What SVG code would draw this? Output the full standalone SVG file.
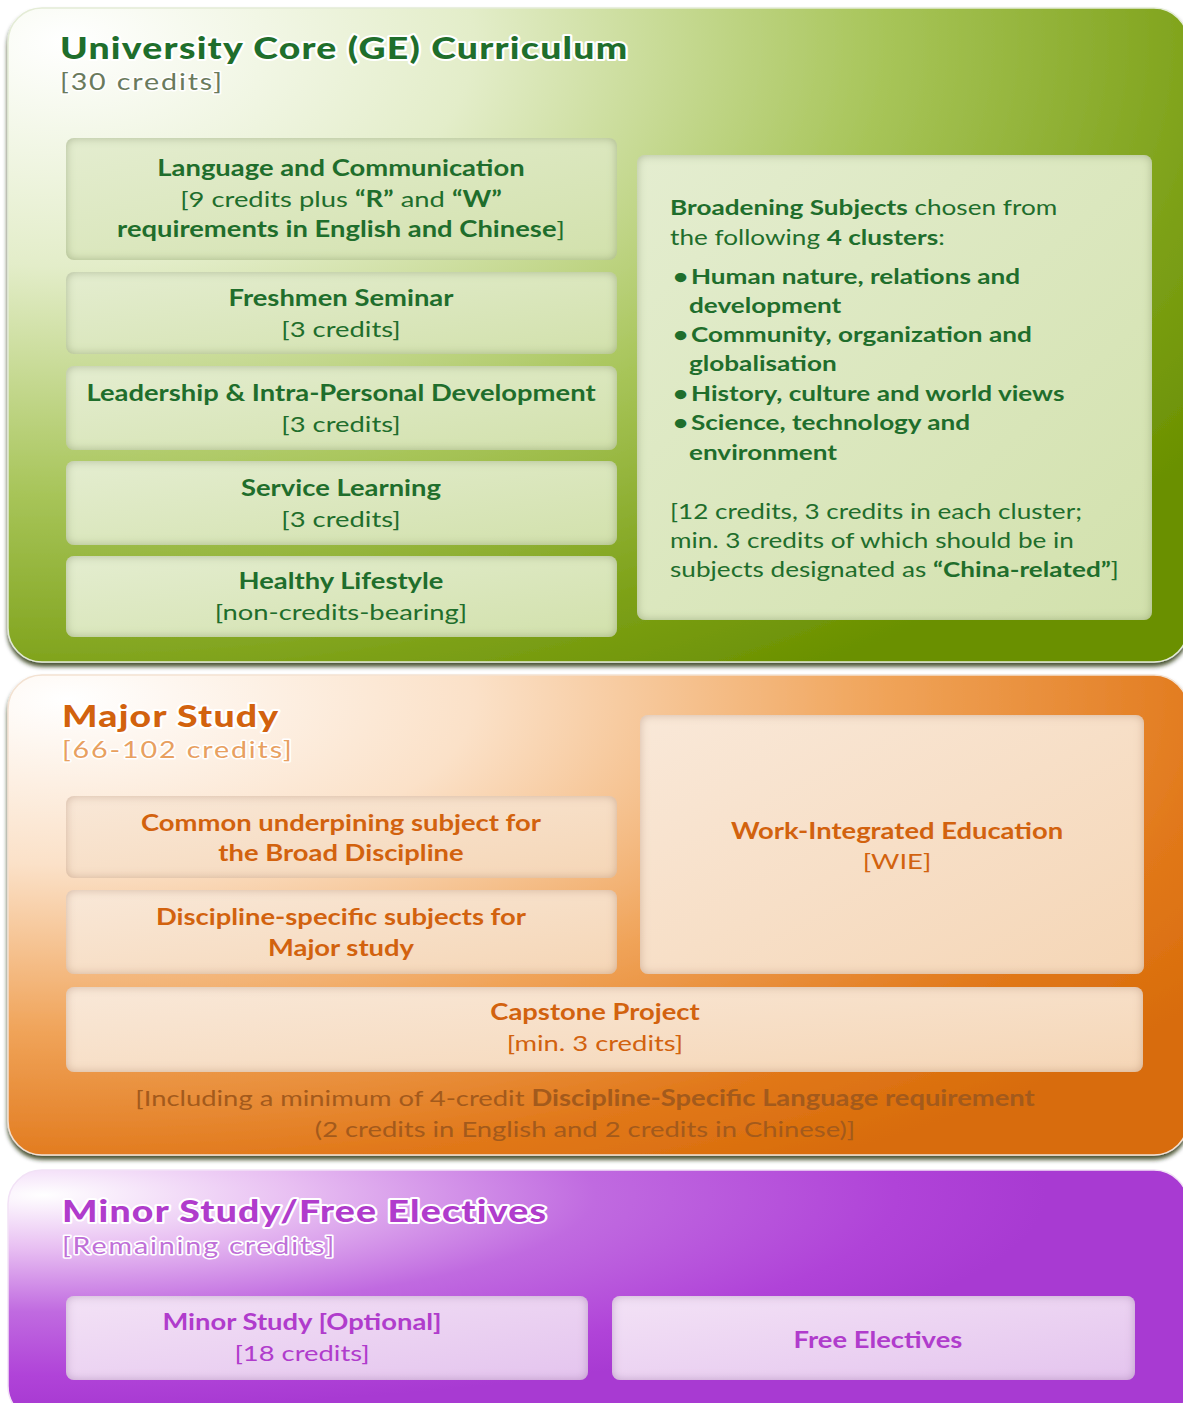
<svg xmlns="http://www.w3.org/2000/svg" width="1183" height="1403" viewBox="0 0 1183 1403">
<defs>
<radialGradient id="gGreen" cx="0.05" cy="0.05" r="1.15" fx="0.05" fy="0.05">
<stop offset="0" stop-color="#ffffff"/>
<stop offset="0.3" stop-color="#e3edc9"/>
<stop offset="0.6" stop-color="#a8c55a"/>
<stop offset="0.85" stop-color="#7ca016"/>
<stop offset="1" stop-color="#6a9000"/>
</radialGradient>
<radialGradient id="gOrange" cx="0.05" cy="0.05" r="1.15" fx="0.05" fy="0.05">
<stop offset="0" stop-color="#ffffff"/>
<stop offset="0.3" stop-color="#fbe1c8"/>
<stop offset="0.6" stop-color="#f0a45a"/>
<stop offset="0.85" stop-color="#e1781a"/>
<stop offset="1" stop-color="#d86c0a"/>
</radialGradient>
<radialGradient id="gPurple" cx="0.03" cy="0.1" r="0.85" fx="0.03" fy="0.1">
<stop offset="0" stop-color="#ffffff"/>
<stop offset="0.25" stop-color="#e8bff2"/>
<stop offset="0.55" stop-color="#c06ae0"/>
<stop offset="0.85" stop-color="#b043d8"/>
<stop offset="1" stop-color="#a83ad2"/>
</radialGradient>
<linearGradient id="bGreen" x1="0" y1="0" x2="1" y2="1">
<stop offset="0" stop-color="#e4edd0"/>
<stop offset="1" stop-color="#d2e1ac"/>
</linearGradient>
<linearGradient id="bOrange" x1="0" y1="0" x2="1" y2="1">
<stop offset="0" stop-color="#f9e8d8"/>
<stop offset="1" stop-color="#f5d6b6"/>
</linearGradient>
<linearGradient id="bPurple" x1="0" y1="0" x2="1" y2="1">
<stop offset="0" stop-color="#f3e2f6"/>
<stop offset="1" stop-color="#e4c4ee"/>
</linearGradient>
<filter id="panelShadow" x="-5%" y="-5%" width="110%" height="115%">
<feGaussianBlur in="SourceAlpha" stdDeviation="2"/>
<feOffset dx="0" dy="4" result="o"/>
<feFlood flood-color="#1e2a00" flood-opacity="0.8"/>
<feComposite in2="o" operator="in"/>
<feMerge><feMergeNode/><feMergeNode in="SourceGraphic"/></feMerge>
</filter>
<filter id="innerG" x="-5%" y="-10%" width="110%" height="120%">
<feFlood flood-color="#5a7020" flood-opacity="0.55"/>
<feComposite in2="SourceAlpha" operator="out"/>
<feGaussianBlur stdDeviation="5"/>
<feComposite in2="SourceAlpha" operator="in" result="in"/>
<feMerge><feMergeNode in="SourceGraphic"/><feMergeNode in="in"/></feMerge>
</filter>
<filter id="innerO" x="-5%" y="-10%" width="110%" height="120%">
<feFlood flood-color="#9a5a20" flood-opacity="0.5"/>
<feComposite in2="SourceAlpha" operator="out"/>
<feGaussianBlur stdDeviation="5"/>
<feComposite in2="SourceAlpha" operator="in" result="in"/>
<feMerge><feMergeNode in="SourceGraphic"/><feMergeNode in="in"/></feMerge>
</filter>
<filter id="innerP" x="-5%" y="-10%" width="110%" height="120%">
<feFlood flood-color="#7a3a8a" flood-opacity="0.5"/>
<feComposite in2="SourceAlpha" operator="out"/>
<feGaussianBlur stdDeviation="5"/>
<feComposite in2="SourceAlpha" operator="in" result="in"/>
<feMerge><feMergeNode in="SourceGraphic"/><feMergeNode in="in"/></feMerge>
</filter>
</defs>
<style>
text { font-family: Lato, "Open Sans", "Liberation Sans", sans-serif; }
.title { font-size: 30px; font-weight: 900; letter-spacing: 1px; stroke: #ffffff; stroke-width: 4px; paint-order: stroke; stroke-linejoin: round; }
.sub { font-size: 23px; letter-spacing: 1.5px; stroke: #ffffff; stroke-width: 3px; paint-order: stroke; stroke-linejoin: round; }
.t { font-size: 22px; text-anchor: middle; }
.b { font-weight: bold; }
.l { font-size: 21px; }
.gt { fill: #1f6e2c; }
.ot { fill: #d2620e; }
.pt { fill: #b03ccc; }
.gbox { fill: url(#bGreen); filter: url(#innerG); }
.obox { fill: url(#bOrange); filter: url(#innerO); }
.pbox { fill: url(#bPurple); filter: url(#innerP); }
</style>

<g id="connectors"/>

<g id="core-panel">
<rect x="8" y="8" width="1180" height="654" rx="34" fill="url(#gGreen)" stroke="#e4ecd6" stroke-width="1.5" filter="url(#panelShadow)"/>
<g transform="scale(1.245 1)">
<text x="48.2" y="59" class="title gt">University Core (GE) Curriculum</text>
<text x="48.2" y="90" class="sub" fill="#6a7a5c">[30 credits]</text>
</g>
</g>

<g id="language">
<rect x="66" y="138" width="551" height="122" rx="8" class="gbox"/>
<g transform="scale(1.245 1)">
<text class="t b gt" x="273.9" y="176">Language and Communication</text>
<text class="t gt" x="273.9" y="207">[9 credits plus <tspan class="b">“R”</tspan> and <tspan class="b">“W”</tspan></text>
<text class="t gt" x="273.9" y="237"><tspan class="b">requirements in English and Chinese</tspan>]</text>
</g>
</g>

<g id="freshmen">
<rect x="66" y="272" width="551" height="82" rx="8" class="gbox"/>
<g transform="scale(1.245 1)">
<text class="t b gt" x="273.9" y="306">Freshmen Seminar</text>
<text class="t gt" x="273.9" y="337">[3 credits]</text>
</g>
</g>

<g id="leadership">
<rect x="66" y="366" width="551" height="84" rx="8" class="gbox"/>
<g transform="scale(1.245 1)">
<text class="t b gt" x="273.9" y="401">Leadership &amp; Intra-Personal Development</text>
<text class="t gt" x="273.9" y="432">[3 credits]</text>
</g>
</g>

<g id="service">
<rect x="66" y="461" width="551" height="84" rx="8" class="gbox"/>
<g transform="scale(1.245 1)">
<text class="t b gt" x="273.9" y="496">Service Learning</text>
<text class="t gt" x="273.9" y="527">[3 credits]</text>
</g>
</g>

<g id="healthy">
<rect x="66" y="556" width="551" height="81" rx="8" class="gbox"/>
<g transform="scale(1.245 1)">
<text class="t b gt" x="273.9" y="589">Healthy Lifestyle</text>
<text class="t gt" x="273.9" y="620">[non-credits-bearing]</text>
</g>
</g>

<g id="broadening">
<rect x="637" y="155" width="515" height="465" rx="8" class="gbox"/>
<g transform="scale(1.245 1)">
<text class="l gt" x="538.2" y="215"><tspan class="b">Broadening Subjects</tspan> chosen from</text>
<text class="l gt" x="538.2" y="245">the following <tspan class="b">4 clusters</tspan>:</text>
<text class="l gt b" x="540.6" y="284">•</text>
<text class="l gt b" x="555" y="284">Human nature, relations and</text>
<text class="l gt b" x="553.4" y="313">development</text>
<text class="l gt b" x="540.6" y="342">•</text>
<text class="l gt b" x="555" y="342">Community, organization and</text>
<text class="l gt b" x="553.4" y="371">globalisation</text>
<text class="l gt b" x="540.6" y="401">•</text>
<text class="l gt b" x="555" y="401">History, culture and world views</text>
<text class="l gt b" x="540.6" y="430">•</text>
<text class="l gt b" x="555" y="430">Science, technology and</text>
<text class="l gt b" x="553.4" y="460">environment</text>
<text class="l gt" x="538.2" y="519">[12 credits, 3 credits in each cluster;</text>
<text class="l gt" x="538.2" y="548">min. 3 credits of which should be in</text>
<text class="l gt" x="538.2" y="577">subjects designated as <tspan class="b">“China-related”</tspan>]</text>
</g>
</g>

<g id="major-panel">
<rect x="8" y="675" width="1180" height="480" rx="34" fill="url(#gOrange)" stroke="#f3e2d2" stroke-width="1.5" filter="url(#panelShadow)"/>
<g transform="scale(1.245 1)">
<text x="49.8" y="727" class="title ot">Major Study</text>
<text x="49.8" y="758" class="sub" fill="#e8a060">[66-102 credits]</text>
<text class="t" x="469.9" y="1106" fill="#a35a1c">[Including a minimum of 4-credit <tspan class="b">Discipline-Specific Language requirement</tspan></text>
<text class="t" x="469.9" y="1137" fill="#a35a1c">(2 credits in English and 2 credits in Chinese)]</text>
</g>
</g>

<g id="common">
<rect x="66" y="796" width="551" height="82" rx="8" class="obox"/>
<g transform="scale(1.245 1)">
<text class="t b ot" x="273.9" y="831">Common underpining subject for</text>
<text class="t b ot" x="273.9" y="861">the Broad Discipline</text>
</g>
</g>

<g id="discipline">
<rect x="66" y="890" width="551" height="84" rx="8" class="obox"/>
<g transform="scale(1.245 1)">
<text class="t b ot" x="273.9" y="925">Discipline-specific subjects for</text>
<text class="t b ot" x="273.9" y="956">Major study</text>
</g>
</g>

<g id="wie">
<rect x="640" y="715" width="504" height="259" rx="8" class="obox"/>
<g transform="scale(1.245 1)">
<text class="t b ot" x="720.5" y="839">Work-Integrated Education</text>
<text class="t ot" x="720.5" y="869">[WIE]</text>
</g>
</g>

<g id="capstone">
<rect x="66" y="987" width="1077" height="85" rx="8" class="obox"/>
<g transform="scale(1.245 1)">
<text class="t b ot" x="477.9" y="1020">Capstone Project</text>
<text class="t ot" x="477.9" y="1051">[min. 3 credits]</text>
</g>
</g>

<g id="minor-panel">
<rect x="8" y="1170" width="1180" height="250" rx="34" fill="url(#gPurple)" stroke="#f2e2f6" stroke-width="1.5"/>
<g transform="scale(1.245 1)">
<text x="49.8" y="1222" class="title pt">Minor Study/Free Electives</text>
<text x="49.8" y="1254" class="sub" fill="#c070d8" letter-spacing="2">[Remaining credits]</text>
</g>
</g>

<g id="minor">
<rect x="66" y="1296" width="522" height="84" rx="8" class="pbox"/>
<g transform="scale(1.245 1)">
<text class="t b pt" x="242.6" y="1330">Minor Study [Optional]</text>
<text class="t pt" x="242.6" y="1361">[18 credits]</text>
</g>
</g>

<g id="free">
<rect x="612" y="1296" width="523" height="84" rx="8" class="pbox"/>
<g transform="scale(1.245 1)">
<text class="t b pt" x="705.2" y="1348">Free Electives</text>
</g>
</g>
</svg>
